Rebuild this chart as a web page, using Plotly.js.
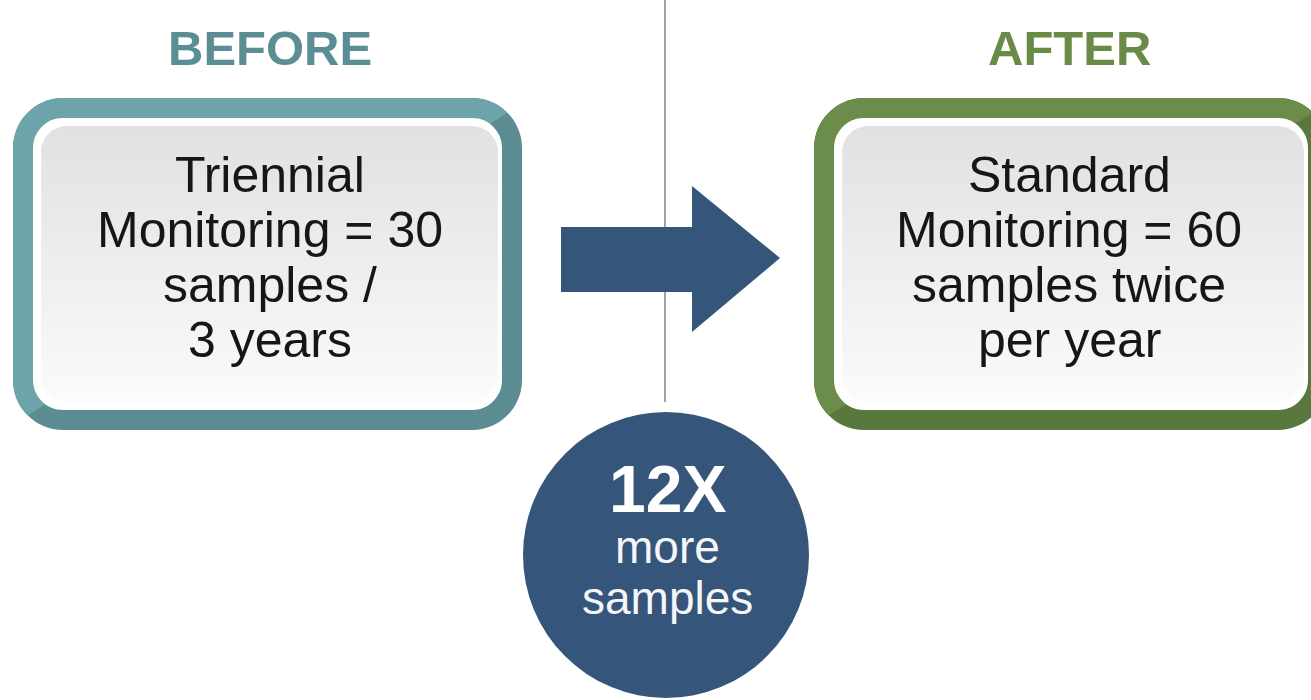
<!DOCTYPE html>
<html>
<head>
<meta charset="utf-8">
<script src="https://cdn.plot.ly/plotly-3.0.1.min.js"></script>
<style>html,body{margin:0;padding:0;background:#fff;}#chart{width:1311px;height:700px;}</style>
</head>
<body>
<div id="chart"></div>
<script>
// ---------- content ----------
const headers = ['BEFORE', 'AFTER'];
const beforeLines = ['Triennial', 'Monitoring = 30', 'samples /', '3 years'];
const afterLines = ['Standard', 'Monitoring = 60', 'samples twice', 'per year'];
const multiplier = '12X';
const multiplierCaption = ['more', 'samples'];

// ---------- geometry / styling ----------
const W = 1311, H = 700;
const FONT = 'Liberation Sans, Arial, Helvetica, sans-serif';
const panels = [
  {lines: beforeLines, header: headers[0], x0: 13, x1: 522, cx: 270,
   light: '#6ca4aa', dark: '#5b8c92', headColor: '#5b8e94'},
  {lines: afterLines, header: headers[1], x0: 814, x1: 1328, cx: 1069,
   light: '#6b8c4a', dark: '#59783d', headColor: '#6a8a48'}
];
const boxY0 = 98, boxY1 = 430, outerR = 50, ringW = 20, innerR = 30;
const lineY0 = 175, lineStep = 55, headY = 48;
const navy = '#36557a';

function rrPath(x0, y0, x1, y1, r) {
  const k = 0.5523 * r;
  return `M${x0 + r},${y0} L${x1 - r},${y0} C${x1 - r + k},${y0} ${x1},${y0 + r - k} ${x1},${y0 + r} ` +
    `L${x1},${y1 - r} C${x1},${y1 - r + k} ${x1 - r + k},${y1} ${x1 - r},${y1} ` +
    `L${x0 + r},${y1} C${x0 + r - k},${y1} ${x0},${y1 - r + k} ${x0},${y1 - r} ` +
    `L${x0},${y0 + r} C${x0},${y0 + r - k} ${x0 + r - k},${y0} ${x0 + r},${y0} Z`;
}
function lightPath(x0, y0, x1, y1, r) {
  const a = 0.293 * r, t = 0.586 * r, k = 0.5523 * r;
  return `M${x0 + a},${y1 - a} Q${x0},${y1 - t} ${x0},${y1 - r} L${x0},${y0 + r} ` +
    `C${x0},${y0 + r - k} ${x0 + r - k},${y0} ${x0 + r},${y0} L${x1 - r},${y0} ` +
    `Q${x1 - t},${y0} ${x1 - a},${y0 + a} Z`;
}
function rrPoints(x0, y0, x1, y1, r) {
  const xs = [], ys = [], n = 12;
  const corners = [
    [x1 - r, y0 + r, -Math.PI / 2, 0],
    [x1 - r, y1 - r, 0, Math.PI / 2],
    [x0 + r, y1 - r, Math.PI / 2, Math.PI],
    [x0 + r, y0 + r, Math.PI, 1.5 * Math.PI]
  ];
  corners.forEach(([cx, cy, a0, a1]) => {
    for (let i = 0; i <= n; i++) {
      const a = a0 + (a1 - a0) * i / n;
      xs.push(cx + r * Math.cos(a)); ys.push(cy + r * Math.sin(a));
    }
  });
  xs.push(xs[0]); ys.push(ys[0]);
  return {xs, ys};
}

const shapes = [];
const traces = [];
const annotations = [];

// divider line
shapes.push({type: 'line', layer: 'below', x0: 665, x1: 665, y0: 0, y1: 402,
  line: {color: '#a3a3a3', width: 2}});

panels.forEach(p => {
  shapes.push({type: 'path', layer: 'below', path: rrPath(p.x0, boxY0, p.x1, boxY1, outerR),
    fillcolor: p.dark, line: {width: 0}});
  shapes.push({type: 'path', layer: 'below', path: lightPath(p.x0, boxY0, p.x1, boxY1, outerR),
    fillcolor: p.light, line: {width: 0}});
  shapes.push({type: 'path', layer: 'below',
    path: rrPath(p.x0 + ringW, boxY0 + ringW, p.x1 - ringW, boxY1 - ringW, innerR),
    fillcolor: '#ffffff', line: {width: 0}});
  const g = rrPoints(p.x0 + 28, boxY0 + 28, p.x1 - 24, boxY1 - 28, 26);
  traces.push({type: 'scatter', mode: 'lines', x: g.xs, y: g.ys, fill: 'toself',
    line: {width: 0, color: 'rgba(0,0,0,0)'}, hoverinfo: 'skip', showlegend: false,
    fillgradient: {type: 'vertical', start: boxY0 + 28, stop: boxY1 - 28,
      colorscale: [[0, '#dfe1e3'], [0.55, '#eeeff0'], [1, '#fbfbfb']]}});
  annotations.push({x: p.cx, y: headY, text: '<b>' + p.header + '</b>', showarrow: false,
    xanchor: 'center', yanchor: 'middle', font: {family: FONT, size: 49, color: p.headColor}});
  p.lines.forEach((ln, i) => {
    annotations.push({x: p.cx, y: lineY0 + i * lineStep, text: ln, showarrow: false,
      xanchor: 'center', yanchor: 'middle', font: {family: FONT, size: 50, color: '#161616'}});
  });
});

// arrow
shapes.push({type: 'path', layer: 'below',
  path: 'M561,227 L692,227 L692,186 L780,258 L692,332 L692,292 L561,292 Z',
  fillcolor: navy, line: {width: 0}});
// circle
shapes.push({type: 'circle', layer: 'below', x0: 523, x1: 809, y0: 412, y1: 698,
  fillcolor: navy, line: {width: 0}});

annotations.push({x: 667, y: 489, text: '<b>' + multiplier + '</b>', showarrow: false,
  xanchor: 'center', yanchor: 'middle', font: {family: FONT, size: 66, color: '#ffffff'}});
multiplierCaption.forEach((t, i) => {
  annotations.push({x: 667, y: 547 + i * 51, text: t, showarrow: false,
    xanchor: 'center', yanchor: 'middle', font: {family: FONT, size: 46, color: '#f4f6f8'}});
});

const layout = {
  width: W, height: H,
  margin: {l: 0, r: 0, t: 0, b: 0, pad: 0},
  paper_bgcolor: '#ffffff', plot_bgcolor: '#ffffff',
  xaxis: {range: [0, W], visible: false, fixedrange: true},
  yaxis: {range: [H, 0], visible: false, fixedrange: true},
  showlegend: false,
  shapes: shapes,
  annotations: annotations
};
Plotly.newPlot('chart', traces, layout, {displayModeBar: false, staticPlot: true});
</script>
</body>
</html>
